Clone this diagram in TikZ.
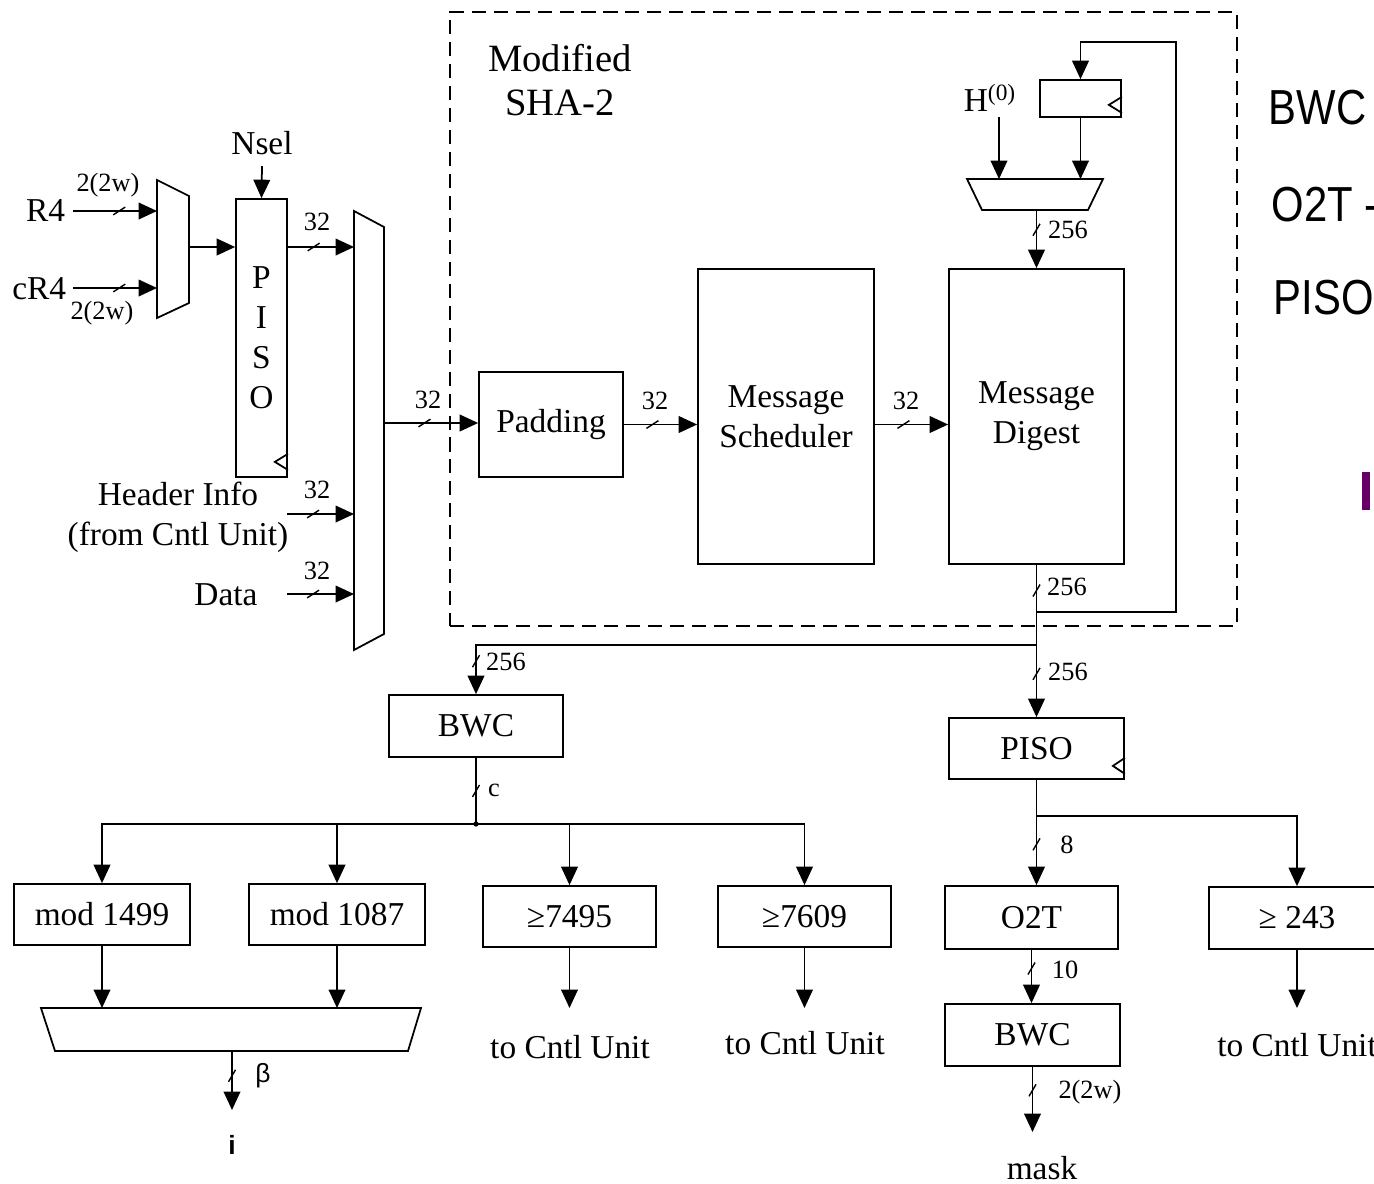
\documentclass[tikz,border=0pt]{standalone}
\usepackage{fontspec}
\setmainfont{Liberation Serif}
\newfontfamily\sidefont{Liberation Sans}
\usetikzlibrary{arrows.meta,calc,decorations.markings}
\definecolor{violetbar}{RGB}{102,0,102}
\newcommand\fmain{\fontsize{19}{22.7}\selectfont}
\newcommand\fsmall{\fontsize{15}{18}\selectfont}
\newcommand\fbig{\fontsize{22}{25.5}\selectfont}
\newcommand\fside{\sidefont\fontsize{28}{32}\selectfont}
\begin{document}
\begin{tikzpicture}[x=0.02cm, y=-0.02cm, line width=1pt,
  >={Triangle[length=10.5pt,width=9.5pt]},
  boxat/.style args={#1,#2,#3,#4}{minimum width={(#3-#1)*0.02cm}, minimum height={(#4-#2)*0.02cm}, at={({(#1+#3)/2},{(#2+#4)/2})}},
  box/.style={draw, inner sep=0pt, font=\fmain, align=center},
  txt/.style={font=\fmain, align=center, inner sep=0pt},
  lab/.style={font=\fsmall, inner sep=0pt},
  side/.style={font=\fside, anchor=west, inner sep=0pt},
  hbus/.style={postaction={decorate,decoration={markings,mark=at position #1 with {\pgftransformresetnontranslations\draw[-,line width=0.8pt](-3.4pt,-2.2pt)--(3.4pt,2.2pt);}}}},
  vbus/.style={postaction={decorate,decoration={markings,mark=at position #1 with {\pgftransformresetnontranslations\draw[-,line width=0.8pt](-2pt,-3.4pt)--(2pt,3.4pt);}}}}
]
\path[use as bounding box, clip] (0,0) rectangle (1374,1184);

% ---------- SHA-2 region ----------
\node[draw, dash pattern=on 8pt off 4.5pt, line width=0.9pt, inner sep=0pt, boxat={450,12,1237,626}] (sha) {};
\node[txt, font=\fbig] (title) at (560,80) {Modified\\SHA-2};

% ---------- input side ----------
\node[txt, anchor=east] (R4) at (66,211) {R4};
\node[txt, anchor=east] (cR4) at (67,289) {cR4};
\draw (157,180) -- (189,196) -- (189,303) -- (157,318) -- cycle;
\coordinate (m1a) at (157,211);
\coordinate (m1b) at (157,288);
\coordinate (m1o) at (189,247);
\draw[->,hbus=0.55] ([xshift=4pt]R4.east) -- (m1a);
\draw[->,hbus=0.55] ([xshift=3.5pt]cR4.east |- m1b) -- (m1b);
\node[lab] (l1) at (108,185) {2(2w)};
\node[lab] (l2) at (102,313) {2(2w)};

\node[box, boxat={236,199,287,477}] (P1) {P\\I\\S\\O};
\draw ($(P1.south east)+(0,-24)$) -- ++(-13,8) -- ++(13,8);
\node[txt] (nsel) at (262,143) {Nsel};
\draw[->] ([yshift=-6pt]nsel.south) -- (P1.north);
\draw[->] (m1o) -- (m1o -| P1.west);

\draw (354,211) -- (384,227) -- (384,634) -- (354,650) -- cycle;
\coordinate (m2a) at (354,247);
\coordinate (m2b) at (354,514);
\coordinate (m2c) at (354,594);
\coordinate (m2o) at (384,423);
\draw[->,hbus=0.39] (m1o -| P1.east) -- (m2a);
\node[lab] (l3) at (317,222) {32};

\node[txt] (hdr) at (178,517) {Header Info\\(from Cntl Unit)};
\coordinate (hs) at (287,514);
\draw[->,hbus=0.39] (hs) -- (m2b);
\node[lab] (l4) at (317,490) {32};
\node[txt] (data) at (226,595) {Data};
\coordinate (ds) at (287,594);
\draw[->,hbus=0.39] (ds) -- (m2c);
\node[lab] (l5) at (317,571) {32};

% ---------- SHA-2 internals ----------
\node[box, boxat={479,372,623,477}] (pad) {Padding};
\node[box, boxat={698,269,874,564}] (ms) {Message\\Scheduler};
\node[box, boxat={949,269,1124,564}] (md) {Message\\Digest};
\draw[->,hbus=0.43] (m2o) -- (m2o -| pad.west);
\node[lab] (l6) at (428,400) {32};
\draw[->,hbus=0.39] (pad.east) -- (pad.east -| ms.west);
\node[lab] (l7) at (655,401) {32};
\draw[->,hbus=0.39] (pad.east -| ms.east) -- (pad.east -| md.west);
\node[lab] (l8) at (906,401) {32};

\node[box, boxat={1040,80,1121,117}] (reg) {};
\draw ($(reg.south east)+(0,-21)$) -- ++(-13,8) -- ++(13,8);
\draw (967,179) -- (1103,179) -- (1088,210) -- (982,210) -- cycle;
\coordinate (m3a) at (999,179);
\coordinate (m3b) at (1080.5,179);
\coordinate (m3o) at (1036.5,210);
\node[txt] (h0) at (990,98) {H\textsuperscript{(0)}};
\coordinate (h0s) at (999,117);
\draw[->] (h0s) -- (m3a);
\draw[->] (reg.south) -- (m3b);
\draw[->,vbus=0.34] (m3o) -- (m3o |- md.north);
\node[lab] (l9) at (1068,230) {256};

\coordinate (fb) at (1036.5,612);
\coordinate (fbc) at (1176,42);
\draw[->] (fb) -| (fbc) -| (reg.north);

\coordinate (j1) at (1036.5,645);
\draw[vbus=0.32] (md.south) -- (j1);
\node[lab] (l10) at (1067,587) {256};

% ---------- output branches ----------
\node[box, boxat={389,695,563,757}] (bwc1) {BWC};
\node[box, boxat={949,718,1124,779}] (p2) {PISO};
\draw ($(p2.south east)+(0,-22)$) -- ++(-12,8) -- ++(12,8);
\draw[->,vbus=0.946] (j1) -| (bwc1.north);
\node[lab] (l11) at (506,662) {256};
\draw[->,vbus=0.4] (j1) -- (p2.north);
\node[lab] (l12) at (1068,672) {256};

\coordinate (j2) at (476,824);
\draw[vbus=0.5] (bwc1.south) -- (j2);
\fill (j2) circle (1.5pt);
\node[lab] (l13) at (494,790) {c};

\node[box, boxat={14,884,190,945}] (mod1) {mod 1499};
\node[box, boxat={249,884,425,945}] (mod2) {mod 1087};
\node[box, boxat={483,886,656,947}] (ge1) {≥7495};
\node[box, boxat={718,886,891,947}] (ge2) {≥7609};
\draw[->] (j2) -| (mod1.north);
\draw[->] (j2) -| (mod2.north);
\draw[->] (j2) -| (ge1.north);
\draw[->] (j2) -| (ge2.north);

\draw (41,1008) -- (421,1008) -- (408,1051) -- (55,1051) -- cycle;
\coordinate (tA) at (102,1008);
\coordinate (tB) at (337,1008);
\coordinate (tO) at (232,1051);
\draw[->] (mod1.south) -- (tA);
\draw[->] (mod2.south) -- (tB);
\coordinate (iA) at (232,1110);
\draw[->,vbus=0.42] (tO) -- (iA);
\node[lab, font=\sidefont\fontsize{15}{18}\selectfont] (l14) at (263,1076) {β};
\node[lab, font=\sidefont\bfseries\fontsize{15}{18}\selectfont] (iN) at (232,1145) {i};

\coordinate (c1) at (569.5,1008);
\coordinate (c2) at (804.5,1008);
\draw[->] (ge1.south) -- (c1);
\draw[->] (ge2.south) -- (c2);
\node[txt] (t1) at (570,1047) {to Cntl Unit};
\node[txt] (t2) at (805,1043) {to Cntl Unit};

\coordinate (j3) at (1036.5,816);
\draw (p2.south) -- (j3);
\node[box, boxat={945,886,1118,949}] (o2t) {O2T};
\node[box, boxat={1209,887,1385,949}] (ge3) {≥ 243};
\node[box, boxat={945,1004,1120,1066}] (bwc2) {BWC};
\draw[->,vbus=0.41] (j3) -- (j3 |- o2t.north);
\node[lab] (l15) at (1067,845) {8};
\draw[->] (j3) -| (ge3.north);
\draw[->,vbus=0.35] (o2t.south) -- (o2t.south |- bwc2.north);
\node[lab] (l16) at (1065,970) {10};
\coordinate (mA) at (1032.5,1132);
\draw[->,vbus=0.36] (bwc2.south) -- (mA);
\node[lab] (l17) at (1090,1092) {2(2w)};
\node[txt] (mask) at (1042,1168) {mask};
\coordinate (c3) at (1297,1008);
\draw[->] (ge3.south) -- (c3);
\node[txt] (t3) at (1297,1045) {to Cntl Unit};

% ---------- right margin texts ----------
\node[side] (s1) at (1268,108) {\scalebox{0.85}[1]{BWC}};
\node[side] (s2) at (1271,205) {\scalebox{0.85}[1]{O2T -}};
\node[side] (s3) at (1273,298) {\scalebox{0.85}[1]{PISO}};
\fill[violetbar] (1362,472) rectangle (1370,510);
\end{tikzpicture}
\end{document}
